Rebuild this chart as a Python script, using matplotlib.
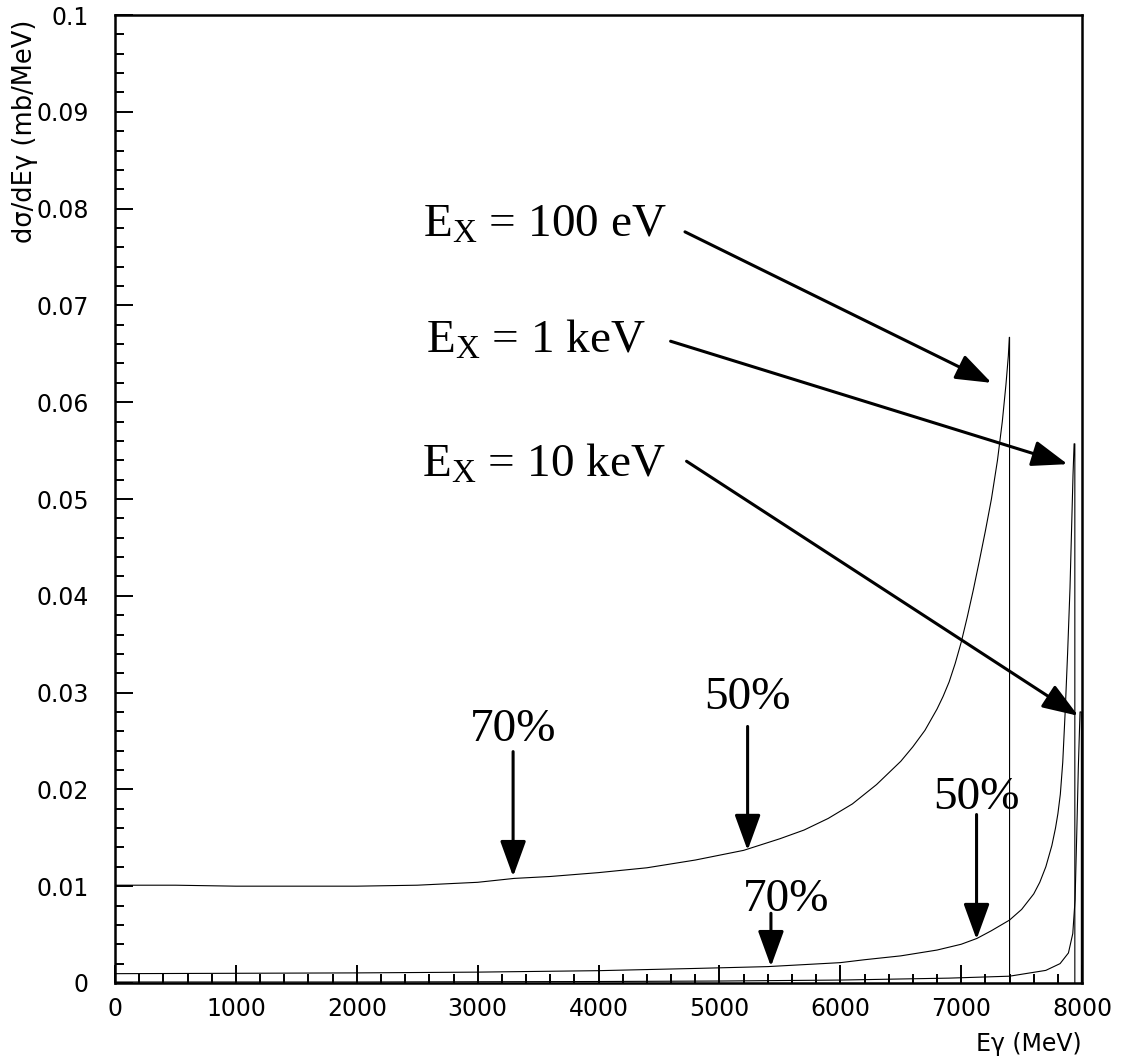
import matplotlib
matplotlib.use("Agg")
import matplotlib.pyplot as plt
from matplotlib.ticker import MultipleLocator

# ---- curve data ----
# E_X = 100 eV
e_100ev = [0, 500, 1000, 1500, 2000, 2500, 3000, 3300, 3600, 4000, 4400, 4800,
           5200, 5500, 5700, 5900, 6100, 6300, 6400, 6500, 6600, 6700, 6800,
           6850, 6900, 6950, 7000, 7050, 7100, 7150, 7200, 7250, 7300, 7340,
           7370, 7390, 7398, 7400, 7400]
s_100ev = [0.0101, 0.0101, 0.0100, 0.0100, 0.0100, 0.0101, 0.0104, 0.0108,
           0.0110, 0.0114, 0.0119, 0.0127, 0.0137, 0.0149, 0.0158, 0.0170,
           0.0185, 0.0205, 0.0217, 0.0229, 0.0244, 0.0261, 0.0283, 0.0296,
           0.0311, 0.0330, 0.0352, 0.0378, 0.0406, 0.0436, 0.0467, 0.0500,
           0.0540, 0.0580, 0.0618, 0.0648, 0.0667, 0.0667, 0.0]

# E_X = 1 keV
e_1kev = [0, 1000, 2000, 3000, 4000, 4800, 5400, 6000, 6200, 6500, 6800, 7000,
          7130, 7250, 7400, 7500, 7600, 7650, 7700, 7750, 7780, 7800, 7820,
          7840, 7860, 7880, 7900, 7915, 7925, 7934, 7940, 7940]
s_1kev = [0.00096, 0.00100, 0.00104, 0.00112, 0.00127, 0.00150, 0.00169,
          0.0021, 0.0024, 0.0028, 0.0034, 0.0040, 0.0046, 0.0054, 0.0065,
          0.0076, 0.0092, 0.0104, 0.0120, 0.0142, 0.0160, 0.0175, 0.0195,
          0.0228, 0.0280, 0.0340, 0.0408, 0.0478, 0.0525, 0.0557, 0.0557,
          0.0]

# E_X = 10 keV
e_10kev = [0, 2000, 4000, 5000, 6000, 6900, 7400, 7700, 7818, 7887, 7923,
           7942, 7956, 7969, 7983, 7994, 7994]
s_10kev = [0.0001, 0.0001, 0.00015, 0.0002, 0.0003, 0.0005, 0.0007, 0.0013,
           0.0020, 0.0031, 0.0051, 0.0086, 0.0155, 0.0223, 0.0280, 0.0280,
           0.0]

# ---- annotations: (text, text_xy, arrow_start, arrow_tip) ----
EX_LABELS = [r"E$_{\mathrm{X}}$ = 100 eV", r"E$_{\mathrm{X}}$ = 1 keV",
             r"E$_{\mathrm{X}}$ = 10 keV"]
EX_TEXT_POS = [(2550, 0.0771), (2570, 0.0651), (2540, 0.0523)]
EX_ARROW_FROM = [(4715, 0.0776), (4596, 0.0663), (4728, 0.0539)]
EX_ARROW_TO = [(7251, 0.0620), (7880, 0.0536), (7968, 0.0276)]

PCT_LABELS = ["70%", "50%", "70%", "50%"]
PCT_TEXT_POS = [(3293, 0.0250), (5233, 0.0283), (5550, 0.0074), (7130, 0.0180)]
PCT_ARROW_FROM = [(3293, 0.0239), (5233, 0.0265), (5426, 0.0072), (7127, 0.0174)]
PCT_ARROW_TO = [(3293, 0.0110), (5233, 0.0137), (5426, 0.0017), (7127, 0.0045)]

plt.rcParams["mathtext.fontset"] = "custom"
plt.rcParams["mathtext.rm"] = "Liberation Serif"
plt.rcParams["mathtext.it"] = "Liberation Serif:italic"
plt.rcParams["font.family"] = "DejaVu Sans"

fig = plt.figure(figsize=(11.3, 10.59), dpi=100)
ax = fig.add_axes([0.1018, 0.0718, 0.8558, 0.914])

for e, s in [(e_100ev, s_100ev), (e_1kev, s_1kev), (e_10kev, s_10kev)]:
    ax.plot(e, s, color="black", lw=0.8)

ax.set_xlim(0, 8000)
ax.set_ylim(0, 0.1)

ax.xaxis.set_major_locator(MultipleLocator(1000))
ax.xaxis.set_minor_locator(MultipleLocator(200))
ax.yaxis.set_minor_locator(MultipleLocator(0.002))
ax.set_yticks([i * 0.01 for i in range(11)])
ax.set_yticklabels(["0"] + [f"{i / 100:g}" for i in range(1, 11)])

ax.tick_params(which="both", direction="in", top=False, right=False,
               labelsize=17, width=1.4, colors="black")
ax.tick_params(which="major", length=13)
ax.tick_params(which="minor", length=6.5)
ax.tick_params(axis="y", which="major", pad=19)
ax.tick_params(axis="x", which="major", pad=10)
for sp in ax.spines.values():
    sp.set_linewidth(1.8)

ax.set_xlabel("E\u03b3 (MeV)", fontsize=17, loc="right", labelpad=8)
ax.set_ylabel("d\u03c3/dE\u03b3 (mb/MeV)", fontsize=18.5, loc="top")
ax.yaxis.set_label_coords(-0.080, 0.995)

arrow_kw = dict(arrowstyle="-|>,head_length=1.1,head_width=0.4",
                color="black", lw=2.2, mutation_scale=20,
                shrinkA=0, shrinkB=0)

for txt, pos, a0, a1 in zip(EX_LABELS, EX_TEXT_POS, EX_ARROW_FROM, EX_ARROW_TO):
    ax.text(pos[0], pos[1], txt, fontsize=34, family="Liberation Serif",
            ha="left", va="baseline")
    ax.annotate("", xy=a1, xytext=a0, arrowprops=arrow_kw)

for txt, pos, a0, a1 in zip(PCT_LABELS, PCT_TEXT_POS, PCT_ARROW_FROM, PCT_ARROW_TO):
    ax.text(pos[0], pos[1], txt, fontsize=34, family="Liberation Serif",
            ha="center", va="baseline")
    ax.annotate("", xy=a1, xytext=a0, arrowprops=arrow_kw)

fig.savefig("out.png", dpi=100)
